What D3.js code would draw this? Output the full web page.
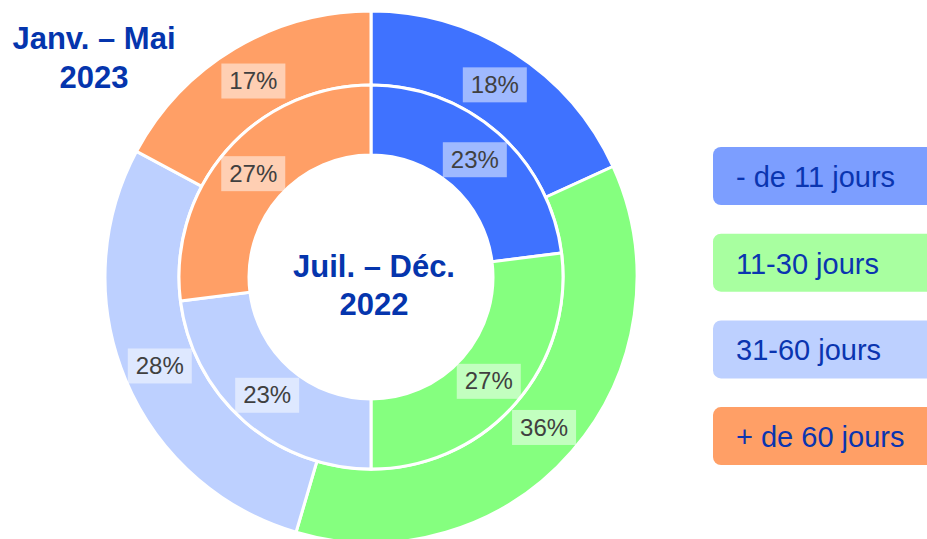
<!DOCTYPE html>
<html>
<head>
<meta charset="utf-8">
<script src="https://cdn.jsdelivr.net/npm/d3@7"></script>
<style>
  body { margin: 0; background: #fff; }
  svg text { font-family: "Liberation Sans", Arial, sans-serif; }
</style>
</head>
<body>
<svg id="chart" width="927" height="539"></svg>
<script>
// categories and values
var categories = ["- de 11 jours", "11-30 jours", "31-60 jours", "+ de 60 jours"];
var outerValues = [18, 36, 28, 17];   // Janv. - Mai 2023
var innerValues = [23, 27, 23, 27];   // Juil. - Déc. 2022
var sliceColors = ["#3f72ff", "#85ff7f", "#bdd0ff", "#ff9f66"];
var legendColors = ["#7c9eff", "#a8ffa0", "#bdd0ff", "#ff9f66"];

var svg = d3.select("#chart");
var cx = 371, cy = 277;
var g = svg.append("g").attr("transform", "translate(" + cx + "," + cy + ")");

var pie = d3.pie().sort(null).value(function(d) { return d; });

function ring(values, r0, r1) {
  var arc = d3.arc().innerRadius(r0).outerRadius(r1);
  var arcs = pie(values);
  var rg = g.append("g");
  rg.selectAll("path").data(arcs).enter().append("path")
    .attr("d", arc)
    .attr("fill", function(d, i) { return sliceColors[i]; })
    .attr("stroke", "#fff")
    .attr("stroke-width", 3);
  var lab = rg.selectAll("g.lab").data(arcs).enter().append("g")
    .attr("class", "lab")
    .attr("transform", function(d) { return "translate(" + arc.centroid(d) + ")"; });
  lab.append("rect")
    .attr("x", -32).attr("y", -17).attr("width", 64).attr("height", 35)
    .attr("fill", "#fff").attr("fill-opacity", 0.5);
  lab.append("text")
    .attr("text-anchor", "middle")
    .attr("dy", "0.36em")
    .attr("font-size", 24)
    .attr("fill", "#404040")
    .text(function(d) { return d.data + "%"; });
}

ring(outerValues, 192, 266);
ring(innerValues, 122, 192);

// centre title
var ct = svg.append("text")
  .attr("text-anchor", "middle")
  .attr("font-size", 31).attr("font-weight", "bold").attr("fill", "#0535ad");
ct.append("tspan").attr("x", 374).attr("y", 277).text("Juil. – Déc.");
ct.append("tspan").attr("x", 374).attr("y", 315).text("2022");

// top-left title
var tt = svg.append("text")
  .attr("text-anchor", "middle")
  .attr("font-size", 31).attr("font-weight", "bold").attr("fill", "#0535ad");
tt.append("tspan").attr("x", 94).attr("y", 49).text("Janv. – Mai");
tt.append("tspan").attr("x", 94).attr("y", 88).text("2023");

// legend
var leg = svg.append("g").selectAll("g").data(categories).enter().append("g")
  .attr("transform", function(d, i) { return "translate(713," + (147 + i * 86.7) + ")"; });
leg.append("rect")
  .attr("width", 222).attr("height", 58).attr("rx", 8)
  .attr("fill", function(d, i) { return legendColors[i]; });
leg.append("text")
  .attr("x", 23).attr("y", 40)
  .attr("font-size", 29)
  .attr("fill", "#0a35b0")
  .text(function(d) { return d; });
</script>
</body>
</html>
